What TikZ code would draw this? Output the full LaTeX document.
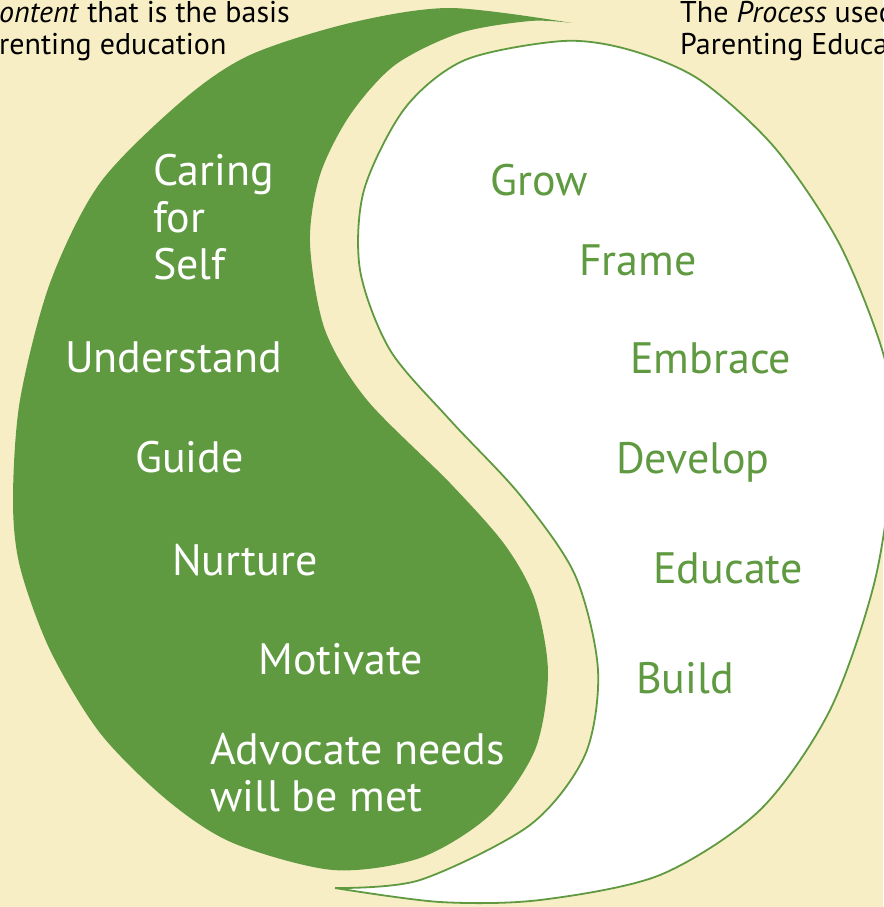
\documentclass[tikz,border=0pt]{standalone}
\usepackage{fontspec}
\setmainfont{PT Sans}
\usepackage{tikz}

\definecolor{leaf}{RGB}{95,154,65}
\definecolor{cream}{RGB}{248,238,198}

\begin{document}
\begin{tikzpicture}[x=1pt,y=-1pt,
    content/.style={text=white,font=\fontsize{44}{47}\selectfont,anchor=base west,inner sep=0pt,align=left},
    process/.style={text=leaf,font=\fontsize{44}{47}\selectfont,anchor=base west,inner sep=0pt},
    caption/.style={text=black,font=\fontsize{30}{32}\selectfont,anchor=base west,inner sep=0pt,align=left}]
  \useasboundingbox (0,0) rectangle (883,907);
  \fill[cream] (0,0) rectangle (883,907);
  % content half
  \fill[leaf] plot[smooth] coordinates {(572,23) (450,8) (350,23) (250,55) (183,100) (100,183)
    (50,283) (20,400) (13,500) (20,567) (50,650) (100,733) (167,800) (233,843) (333,870)
    (420,858) (490,815) (535,750) (548,673) (535,600) (505,545) (450,483) (367,400)
    (325,330) (310,243) (320,175) (350,115) (395,65) (460,33) (530,21) (572,23)} -- cycle;
  % process half
  \filldraw[fill=white,draw=leaf,line width=1.8pt] plot[smooth] coordinates {(335,888) (420,880)
    (530,825) (585,755) (598,670) (575,575) (520,495) (450,420) (390,350) (360,270) (364,190)
    (405,108) (465,60) (563,41) (630,50) (700,80) (775,148) (840,245) (885,360) (893,450)
    (875,580) (830,710) (760,810) (660,875) (540,900) (440,902) (335,888)} -- cycle;
  % labels
  \node[caption] (contenttitle) at (-1,55) {\textit{ontent} that is the basis\\renting education};
  \node[caption] (processtitle) at (680,55) {The \textit{Process} used\\Parenting Educa};
  \foreach \nm/\x/\y/\t in {caring/153/279/{Caring\\for\\Self}, understand/65/372/Understand,
      guide/135/472/Guide, nurture/172/575/Nurture, motivate/258/674/Motivate,
      advocate/210/811/{Advocate needs\\will be met}}
    \node[content] (\nm) at (\x,\y) {\t};
  \foreach \nm/\x/\y/\t in {grow/490/195/Grow, frame/579/275/Frame, embrace/630/373/Embrace,
      develop/616/473/Develop, educate/653/583/Educate, build/636/693/Build}
    \node[process] (\nm) at (\x,\y) {\t};
\end{tikzpicture}
\end{document}
